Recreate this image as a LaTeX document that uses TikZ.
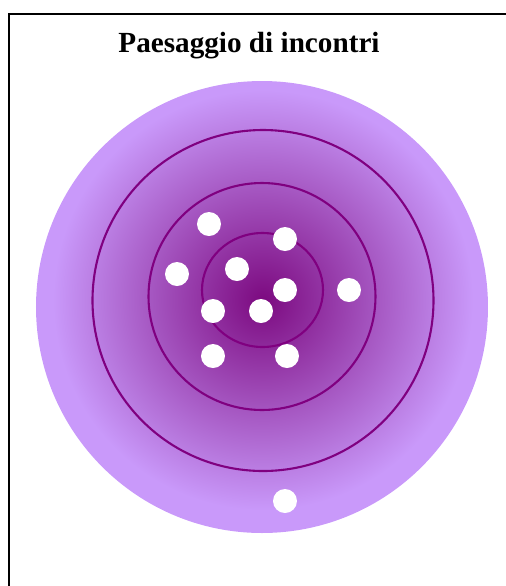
\documentclass[tikz,border=0pt]{standalone}
\usepackage{fontspec}
\setmainfont{Liberation Serif}
\usepackage{xcolor}
\usepackage{tikz}

\definecolor{ringpurple}{HTML}{800080}
\definecolor{glowdark}{HTML}{7C0A80}
\definecolor{glowlight}{HTML}{C999FA}
\pgfdeclareradialshading{glow}{\pgfpoint{0bp}{0bp}}{color(0bp)=(glowdark); color(25bp)=(glowlight); color(50bp)=(glowlight)}

\begin{document}
\begin{tikzpicture}[
  x=0.5pt, y=-0.5pt,
  frame/.style={draw, line width=1pt},
  ring/.style={draw=ringpurple, line width=1.05pt},
  guest/.style={circle, fill=white, minimum size=12pt, inner sep=0pt},
  heading/.style={font=\fontsize{14.6}{17}\selectfont\bfseries, anchor=base}
]

\clip (0,0) rectangle (506,586);
\draw[frame] (9,14) rectangle (530,610);

\node[heading] (title) at (249,52) {Paesaggio di incontri};

% landscape
\fill[glowlight] (262,307) circle[radius=226];
\shade[shading=glow] (263,300) circle[radius=210];

\draw[ring] (263,300.5) circle[radius=170.5];
\draw[ring] (262,296.5) circle[radius=113.5];
\draw[ring] (262.5,290) ellipse[x radius=60.5, y radius=57];

% guests
\foreach \gx/\gy [count=\i] in {209/224, 285/239, 177/274, 237/269, 285/290,
    349/290, 213/311, 261/311, 213/356, 287/356, 285/501}
  \node[guest] (guest\i) at (\gx,\gy) {};

\end{tikzpicture}
\end{document}
